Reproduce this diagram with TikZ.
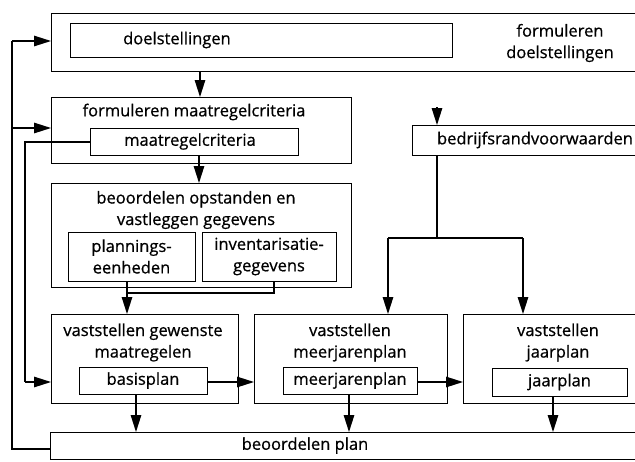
\documentclass[tikz,border=0pt]{standalone}
\usepackage{fontspec}
\setmainfont{Open Sans}[BoldFont={Open Sans},BoldFeatures={FakeBold=0.7}]
\usetikzlibrary{arrows.meta}
\begin{document}
\begin{tikzpicture}[x=1pt,y=-1pt,
  font=\fontsize{16.5}{21.5}\selectfont\bfseries,
  boxst/.style={draw, line width=1.4pt, inner sep=0pt, anchor=north west},
  lbl/.style={inner sep=0pt, align=center},
  conn/.style={line width=1.3pt},
  arr/.style={line width=1.3pt, -{Triangle[length=17pt,width=10.5pt]}},
  ]
\useasboundingbox (0,0) rectangle (635,461);
\clip (0,0) rectangle (635,461);
% top box
\node[boxst, minimum width=589pt, minimum height=58pt] (T) at (51,13) {};
\node[boxst, minimum width=382pt, minimum height=34pt] (D) at (70,23) {};
\node[lbl, anchor=west] (Dt) at (123,40) {doelstellingen};
\node[lbl] (Tt) at (560,43) {formuleren\\doelstellingen};
% box 2
\node[boxst, minimum width=300pt, minimum height=66pt] (M) at (51,97) {};
\node[lbl] (Mt) at (194,112) {formuleren maatregelcriteria};
\node[boxst, minimum width=208pt, minimum height=27pt] (MC) at (90,128) {};
\node[lbl] (MCt) at (190,141.5) {maatregelcriteria};
% box 3
\node[boxst, minimum width=300pt, minimum height=104pt] (B) at (51,183) {};
\node[lbl] (Bt) at (196,210) {beoordelen opstanden en\\vastleggen gegevens};
\node[boxst, minimum width=127pt, minimum height=49pt] (P) at (68,232) {};
\node[lbl] (Pt) at (131.5,256.5) {plannings-\\eenheden};
\node[boxst, minimum width=134pt, minimum height=49pt] (I) at (202,232) {};
\node[lbl] (It) at (269,256.5) {inventarisatie-\\gegevens};
% bedrijfsrandvoorwaarden
\node[boxst, minimum width=228pt, minimum height=30pt] (BR) at (412,125) {};
\node[lbl] (BRt) at (535,140) {bedrijfsrandvoorwaarden};
% box 4
\node[boxst, minimum width=187pt, minimum height=89pt] (V) at (51,314) {};
\node[lbl] (Vt) at (143,342.5) {vaststellen gewenste\\maatregelen};
\node[boxst, minimum width=128pt, minimum height=27pt] (BP) at (79,367) {};
\node[lbl] (BPt) at (143,380.5) {basisplan};
% box 5
\node[boxst, minimum width=193pt, minimum height=89pt] (MJ) at (254,314) {};
\node[lbl] (MJt) at (350,342.5) {vaststellen\\meerjarenplan};
\node[boxst, minimum width=134pt, minimum height=27pt] (MJP) at (283,367) {};
\node[lbl] (MJPt) at (350,380.5) {meerjarenplan};
% box 6
\node[boxst, minimum width=177pt, minimum height=89pt] (J) at (463,314) {};
\node[lbl] (Jt) at (558,342.5) {vaststellen\\jaarplan};
\node[boxst, minimum width=135pt, minimum height=28pt] (JP) at (492,368) {};
\node[lbl] (JPt) at (559.5,382) {jaarplan};
% bottom box
\node[boxst, minimum width=590pt, minimum height=27pt] (BO) at (50,432) {};
\node[lbl] (BOt) at (305,445.5) {beoordelen plan};
% coordinates
\coordinate (brin) at (437,107);
\coordinate (j1) at (127,293);
\coordinate (j2) at (274,293);
\coordinate (s1) at (437,238);
\coordinate (s2) at (388,238);
\coordinate (s3) at (523,238);
\coordinate (fb1) at (12,449);
\coordinate (fb2) at (12,41);
\coordinate (fb3) at (12,128);
\coordinate (fc1) at (25,142);
\coordinate (fc2) at (25,382);
% arrows
\draw[arr] (200,71) -- (200,97);
\draw[arr] (199,155) -- (199,183);
\draw[conn] (127,281) -- (j1) -- (j2) -- (274,281);
\draw[arr] (j1) -- (127,314);
\draw[arr] (brin) -- (437,125);
\draw[conn] (437,155) -- (s1);
\draw[conn] (s2) -- (s3);
\draw[arr] (s2) -- (388,314);
\draw[arr] (s3) -- (523,314);
\draw[arr] (207,382) -- (254,382);
\draw[arr] (417,382) -- (463,382);
\draw[arr] (136,394) -- (136,432);
\draw[arr] (349,394) -- (349,432);
\draw[arr] (553,396) -- (553,432);
\draw[conn] (50,449) -- (fb1) -- (fb2);
\draw[arr] (fb2) -- (51,41);
\draw[arr] (fb3) -- (51,128);
\draw[conn] (90,142) -- (fc1) -- (fc2);
\draw[arr] (fc2) -- (51,382);
\end{tikzpicture}
\end{document}
